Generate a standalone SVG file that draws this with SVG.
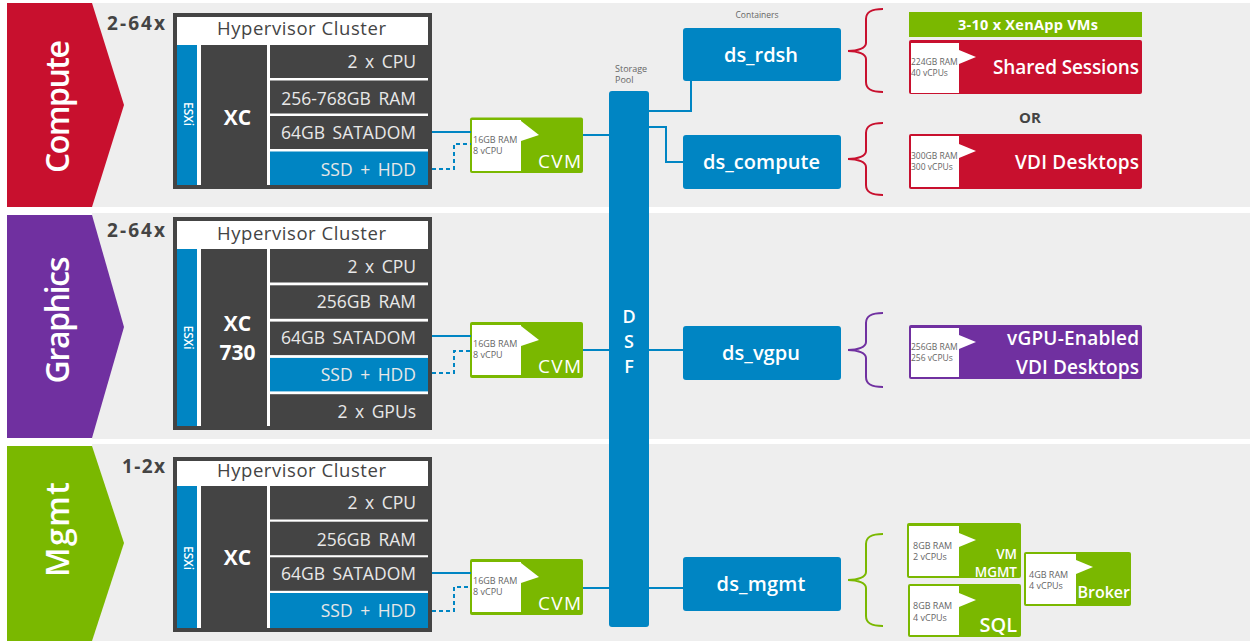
<svg xmlns="http://www.w3.org/2000/svg" width="1253" height="642" viewBox="0 0 1253 642">
<style>
text{font-family:"Open Sans","Liberation Sans",sans-serif}
.band{fill:#eeeeee}
.title{font-size:32px;font-weight:600;fill:#fff;text-anchor:middle}
.mult{font-size:19px;font-weight:700;fill:#444}
.hdr{font-size:18.5px;fill:#444;text-anchor:middle}
.row{font-size:17.5px;fill:#e8e8e8;text-anchor:end;word-spacing:3px}
.dk{fill:#444}
.bl{fill:#0085c3}
.wh{fill:#fff}
.xc{font-size:21px;font-weight:700;fill:#fff;text-anchor:middle}
.esxi{font-size:12px;font-weight:600;fill:#fff;text-anchor:middle}
.sm{font-size:9px;fill:#666}
.sm2{font-size:8.5px;fill:#666}
.cvm{fill:#7ab800}
.cvmt{font-size:19px;font-weight:500;fill:#fff;text-anchor:end}
.ds{font-size:20px;font-weight:600;fill:#fff;text-anchor:middle}
.dsf{font-size:18px;font-weight:600;fill:#fff;text-anchor:middle}
.lbl{font-size:19px;font-weight:600;fill:#fff;text-anchor:end}
.conn{stroke:#0085c3;stroke-width:2;fill:none}
.dash{stroke-dasharray:4 3}
.brace{fill:none;stroke-width:2}
.red{fill:#c8102e}
.pur{fill:#7030a0}
.grn{fill:#7ab800}
</style>
<rect width="1253" height="642" fill="#fff"/>
<g id="bands">
<rect class="band" x="92" y="3" width="1158" height="204"/>
<rect class="band" x="92" y="213" width="1158" height="226"/>
<rect class="band" x="92" y="444" width="1158" height="197"/>
</g>
<g id="chevron-compute">
<polygon class="red" points="7,3 92,3 124,105 92,207 7,207"/>
<text class="title" transform="translate(69,106.5) rotate(-90)" textLength="133">Compute</text>
</g>
<g id="chevron-graphics">
<polygon class="pur" points="7,215 92,215 124,327 92,438 7,438"/>
<text class="title" transform="translate(69,320) rotate(-90)" textLength="127">Graphics</text>
</g>
<g id="chevron-mgmt">
<polygon class="grn" points="7,446 92,446 124,543 92,641 7,641"/>
<text class="title" transform="translate(69,529.5) rotate(-90)" textLength="95">Mgmt</text>
</g>

<g id="cluster-compute">
<text class="mult" x="107" y="30" textLength="58">2-64x</text>
<rect class="dk" x="173" y="13" width="259" height="176"/>
<rect class="wh" x="177" y="17" width="251" height="28"/>
<text class="hdr" x="301.5" y="35" textLength="169">Hypervisor Cluster</text>
<rect class="bl" x="177" y="45" width="20" height="140"/>
<rect class="wh" x="197" y="45" width="4" height="140"/>
<rect class="wh" x="267" y="45" width="161" height="140"/>
<rect class="dk" x="270" y="45" width="158" height="33"/>
<rect class="dk" x="270" y="80.5" width="158" height="33"/>
<rect class="dk" x="270" y="116" width="158" height="33"/>
<rect class="bl" x="270" y="151.5" width="158" height="33.5"/>
<text class="esxi" transform="translate(183.5,114) rotate(90)">ESXi</text>
<text class="xc" x="237.5" y="125">XC</text>
<text class="row" x="416" y="68">2 x CPU</text>
<text class="row" x="416" y="105">256-768GB RAM</text>
<text class="row" x="416" y="138.5">64GB SATADOM</text>
<text class="row" x="416" y="176">SSD + HDD</text>
</g>

<g id="cluster-graphics">
<text class="mult" x="107" y="237" textLength="58">2-64x</text>
<rect class="dk" x="173" y="217" width="259" height="213"/>
<rect class="wh" x="177" y="221" width="251" height="28"/>
<text class="hdr" x="301.5" y="240" textLength="169">Hypervisor Cluster</text>
<rect class="bl" x="177" y="249" width="20" height="177"/>
<rect class="wh" x="197" y="249" width="4" height="177"/>
<rect class="wh" x="267" y="249" width="161" height="177"/>
<rect class="dk" x="270" y="249" width="158" height="33.5"/>
<rect class="dk" x="270" y="285.3" width="158" height="33.5"/>
<rect class="dk" x="270" y="321.6" width="158" height="33.5"/>
<rect class="bl" x="270" y="357.9" width="158" height="33.5"/>
<rect class="dk" x="270" y="394.2" width="158" height="31.8"/>
<text class="esxi" transform="translate(183.5,337.5) rotate(90)">ESXi</text>
<text class="xc" x="237.5" y="331">XC</text>
<text class="xc" x="237.5" y="360">730</text>
<text class="row" x="416" y="273">2 x CPU</text>
<text class="row" x="416" y="308">256GB RAM</text>
<text class="row" x="416" y="343.5">64GB SATADOM</text>
<text class="row" x="416" y="381">SSD + HDD</text>
<text class="row" x="416" y="418">2 x GPUs</text>
</g>

<g id="cluster-mgmt">
<text class="mult" x="122" y="473" textLength="43">1-2x</text>
<rect class="dk" x="173" y="457" width="259" height="175"/>
<rect class="wh" x="177" y="461" width="251" height="25"/>
<text class="hdr" x="301.5" y="477" textLength="169">Hypervisor Cluster</text>
<rect class="bl" x="177" y="486" width="20" height="142"/>
<rect class="wh" x="197" y="486" width="4" height="142"/>
<rect class="wh" x="267" y="486" width="161" height="142"/>
<rect class="dk" x="270" y="486" width="158" height="33.5"/>
<rect class="dk" x="270" y="521.7" width="158" height="33.5"/>
<rect class="dk" x="270" y="557.3" width="158" height="33.5"/>
<rect class="bl" x="270" y="593" width="158" height="35"/>
<text class="esxi" transform="translate(183.5,558) rotate(90)">ESXi</text>
<text class="xc" x="237.5" y="565">XC</text>
<text class="row" x="416" y="509">2 x CPU</text>
<text class="row" x="416" y="546">256GB RAM</text>
<text class="row" x="416" y="580">64GB SATADOM</text>
<text class="row" x="416" y="617">SSD + HDD</text>
</g>

<g id="cvm-compute">
<rect class="cvm" x="470" y="117.5" width="113" height="55.5" rx="2"/>
<rect class="wh" x="472" y="120" width="49" height="51"/>
<polygon class="wh" points="521,121 539,135 521,141"/>
<text class="sm" x="473" y="143">16GB RAM</text>
<text class="sm" x="473" y="154">8 vCPU</text>
<text class="cvmt" x="581" y="168" textLength="43">CVM</text>
</g>
<g id="cvm-graphics">
<rect class="cvm" x="470" y="322" width="113" height="56" rx="2"/>
<rect class="wh" x="472" y="325" width="49" height="50"/>
<polygon class="wh" points="521,326 539,340 521,346"/>
<text class="sm" x="473" y="347">16GB RAM</text>
<text class="sm" x="473" y="358">8 vCPU</text>
<text class="cvmt" x="581" y="373" textLength="43">CVM</text>
</g>
<g id="cvm-mgmt">
<rect class="cvm" x="470" y="559" width="113" height="56" rx="2"/>
<rect class="wh" x="472" y="562" width="49" height="50"/>
<polygon class="wh" points="521,563 539,577 521,583"/>
<text class="sm" x="473" y="584">16GB RAM</text>
<text class="sm" x="473" y="595">8 vCPU</text>
<text class="cvmt" x="581" y="610" textLength="43">CVM</text>
</g>

<g id="connectors">
<path class="conn" d="M432,132 H471"/>
<path class="conn dash" d="M432,169 H454 V144 H471"/>
<path class="conn" d="M583,135 H610"/>
<path class="conn" d="M432,336 H471"/>
<path class="conn dash" d="M432,373 H454 V351 H471"/>
<path class="conn" d="M583,350 H610"/>
<path class="conn" d="M432,573 H471"/>
<path class="conn dash" d="M432,611 H454 V587 H471"/>
<path class="conn" d="M583,588 H610"/>
<path class="conn" d="M648,111 H691 V80"/>
<path class="conn" d="M648,127 H666 V162 H684"/>
<path class="conn" d="M648,350 H684"/>
<path class="conn" d="M648,588 H684"/>
</g>

<g id="dsf">
<text class="sm" x="615" y="72">Storage</text>
<text class="sm" x="615" y="83">Pool</text>
<rect class="bl" x="609" y="91" width="40" height="536" rx="3"/>
<text class="dsf" x="629" y="323">D</text>
<text class="dsf" x="629" y="348">S</text>
<text class="dsf" x="629" y="373">F</text>
</g>

<g id="containers">
<text class="sm2" x="757" y="18" text-anchor="middle">Containers</text>
<g id="ds_rdsh"><rect class="bl" x="683" y="28" width="158" height="53" rx="3"/><text class="ds" x="761" y="61.5" textLength="74">ds_rdsh</text></g>
<g id="ds_compute"><rect class="bl" x="683" y="135" width="158" height="54" rx="3"/><text class="ds" x="761.5" y="169" textLength="117">ds_compute</text></g>
<g id="ds_vgpu"><rect class="bl" x="683" y="326" width="158" height="54" rx="3"/><text class="ds" x="761" y="360" textLength="78">ds_vgpu</text></g>
<g id="ds_mgmt"><rect class="bl" x="683" y="557" width="158" height="54" rx="3"/><text class="ds" x="761" y="591" textLength="89">ds_mgmt</text></g>
</g>

<g id="braces">
<path class="brace" stroke="#c8102e" d="M883,9 C871,9 866,12 866,19 L866,43 C866,48 858,51 848,51 C858,51 866,54 866,59 L866,82 C866,89 871,92 883,92"/>
<path class="brace" stroke="#c8102e" d="M883,123 C871,123 866,126 866,133 L866,151 C866,156 858,159 848,159 C858,159 866,162 866,167 L866,185 C866,192 871,195 883,195"/>
<path class="brace" stroke="#7030a0" d="M883,313 C871,313 866,316 866,323 L866,342 C866,347 858,350 848,350 C858,350 866,353 866,358 L866,377 C866,384 871,387 883,387"/>
<path class="brace" stroke="#7ab800" d="M883,534 C871,534 866,537 866,544 L866,572 C866,577 858,580 848,580 C858,580 866,583 866,588 L866,616 C866,623 871,626 883,626"/>
</g>

<g id="xenapp">
<rect class="grn" x="909" y="12" width="233" height="25"/>
<text x="1028" y="30" style="font-size:14.5px;font-weight:700;fill:#fff;text-anchor:middle" textLength="140">3-10 x XenApp VMs</text>
</g>
<g id="shared-sessions">
<rect class="red" x="909" y="40" width="233" height="54" rx="2"/>
<rect class="wh" x="911" y="43" width="48" height="50"/>
<polygon class="wh" points="959,50 976,57 959,64"/>
<text class="sm2" x="911" y="65">224GB RAM</text>
<text class="sm2" x="911" y="76">40 vCPUs</text>
<text class="lbl" x="1139" y="74" textLength="146">Shared Sessions</text>
</g>
<text id="or" x="1030" y="123" style="font-size:15px;font-weight:700;fill:#444;text-anchor:middle">OR</text>
<g id="vdi-desktops">
<rect class="red" x="909" y="134" width="233" height="55" rx="2"/>
<rect class="wh" x="911" y="136" width="48" height="51"/>
<polygon class="wh" points="959,144 976,151 959,158"/>
<text class="sm2" x="911" y="159">300GB RAM</text>
<text class="sm2" x="911" y="170">300 vCPUs</text>
<text class="lbl" x="1139" y="169" textLength="124">VDI Desktops</text>
</g>
<g id="vgpu-desktops">
<rect class="pur" x="909" y="325" width="233" height="54" rx="2"/>
<rect class="wh" x="911" y="328" width="48" height="49"/>
<polygon class="wh" points="959,335 976,342 959,349"/>
<text class="sm2" x="911" y="350">256GB RAM</text>
<text class="sm2" x="911" y="361">256 vCPUs</text>
<text class="lbl" x="1139" y="345" textLength="132">vGPU-Enabled</text>
<text class="lbl" x="1139" y="374" textLength="123">VDI Desktops</text>
</g>
<g id="vm-mgmt">
<rect class="grn" x="907" y="523" width="114" height="55" rx="2"/>
<rect class="wh" x="909" y="526" width="50" height="50"/>
<polygon class="wh" points="959,533 976,540 959,547"/>
<text class="sm" x="913" y="549">8GB RAM</text>
<text class="sm" x="913" y="560">2 vCPUs</text>
<text class="lbl" x="1017" y="558.5" style="font-size:13.5px">VM</text>
<text class="lbl" x="1017" y="577" style="font-size:13.5px">MGMT</text>
</g>
<g id="sql">
<rect class="grn" x="908" y="584" width="113" height="53" rx="2"/>
<rect class="wh" x="910" y="586" width="49" height="49"/>
<polygon class="wh" points="959,593 976,600 959,607"/>
<text class="sm" x="913" y="609">8GB RAM</text>
<text class="sm" x="913" y="621">4 vCPUs</text>
<text class="lbl" x="1017" y="632" style="font-size:20px">SQL</text>
</g>
<g id="broker">
<rect class="grn" x="1024" y="552" width="107" height="54" rx="2"/>
<rect class="wh" x="1026" y="554" width="50" height="50"/>
<polygon class="wh" points="1076,560 1093,567 1076,574"/>
<text class="sm" x="1029" y="578">4GB RAM</text>
<text class="sm" x="1029" y="589">4 vCPUs</text>
<text class="lbl" x="1130" y="598" style="font-size:16px">Broker</text>
</g>
</svg>
